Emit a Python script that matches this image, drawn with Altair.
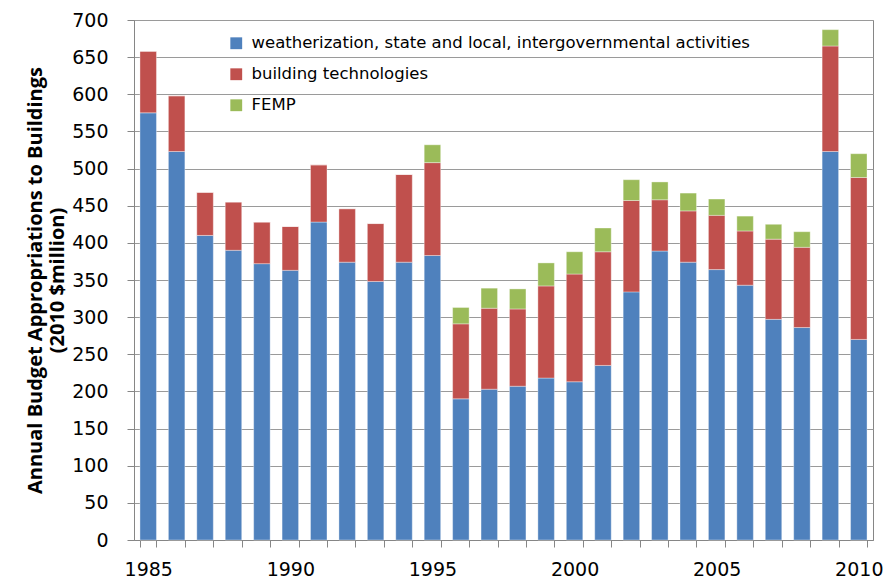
import altair as alt
import pandas as pd

years = list(range(1985, 2011))
weatherization = [575, 523, 410, 390, 372, 363, 428, 374, 348, 374, 383, 190, 203, 207,
                  218, 213, 235, 334, 389, 374, 364, 343, 297, 286, 523, 270]
building_tech = [83, 75, 58, 65, 56, 59, 77, 72, 78, 118, 125, 101, 109, 104,
                 124, 145, 153, 123, 69, 69, 73, 73, 108, 108, 142, 218]
femp = [0, 0, 0, 0, 0, 0, 0, 0, 0, 0, 24, 22, 27, 27,
        31, 30, 32, 28, 24, 24, 22, 20, 20, 21, 22, 32]

series_names = ["weatherization, state and local, intergovernmental activities",
                "building technologies", "FEMP"]
series_colors = ["#4F81BD", "#C0504D", "#9BBB59"]

rows = []
for k, (name, vals) in enumerate(zip(series_names, [weatherization, building_tech, femp])):
    for y, v in zip(years, vals):
        rows.append({"year": str(y), "series": name, "value": v, "k": k})
df = pd.DataFrame(rows)

chart = alt.Chart(df).mark_bar(stroke="#ffffff", strokeWidth=0.6, strokeOpacity=0.6).encode(
    x=alt.X("year:N", title=None,
            scale=alt.Scale(paddingInner=0.42, paddingOuter=0.21),
            axis=alt.Axis(labelAngle=0, tickBand="extent", grid=False,
                          labelExpr="parseInt(datum.value) % 5 == 0 ? datum.value : ''",
                          labelFont="DejaVu Sans", labelFontSize=19, labelColor="#000000",
                          labelPadding=13, tickSize=7, tickColor="#868686",
                          domainColor="#868686", labelOverlap=False)),
    y=alt.Y("value:Q", stack="zero",
            title=["Annual Budget Appropriations to Buildings", "(2010 $million)"],
            scale=alt.Scale(domain=[0, 700], nice=False),
            axis=alt.Axis(values=list(range(0, 701, 50)), tickSize=7, tickColor="#868686",
                          domainColor="#868686", gridColor="#9a9a9a", gridWidth=1,
                          labelFont="DejaVu Sans", labelFontSize=19, labelColor="#000000",
                          labelPadding=19,
                          titleFont="Open Sans", titleFontSize=20, titleFontWeight="bold",
                          titleColor="#000000", titleLineHeight=22, titlePadding=4)),
    color=alt.Color("series:N",
                    scale=alt.Scale(domain=series_names, range=series_colors),
                    legend=alt.Legend(title=None, orient="none", legendX=94, legendY=15,
                                      symbolType="square", symbolSize=140,
                                      symbolStrokeWidth=0,
                                      labelFont="DejaVu Sans", labelFontSize=16.5,
                                      labelColor="#000000", rowPadding=14,
                                      labelOffset=7, labelLimit=760)),
    order=alt.Order("k:Q", sort="ascending"),
).properties(
    width=739, height=520,
    autosize=alt.AutoSizeParams(type="none"),
    padding={"left": 126, "top": 12, "right": 10, "bottom": 43},
).configure_view(stroke="#868686", strokeWidth=1)

chart.save("out.html", embed_options={"renderer": "svg", "actions": False})
